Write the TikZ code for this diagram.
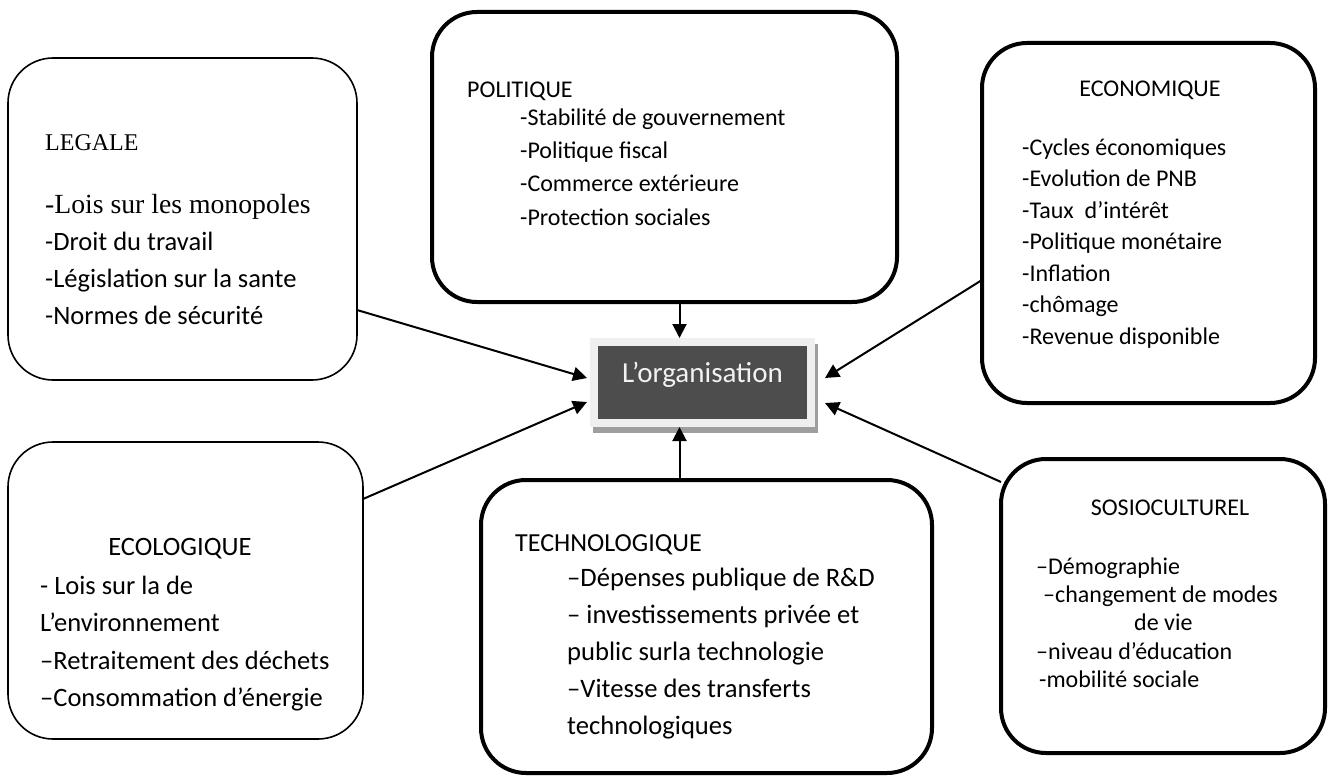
\documentclass[tikz,border=0pt]{standalone}
\usepackage{fontspec}
\setmainfont{Carlito}
\newfontfamily\serifface{Liberation Serif}
\usetikzlibrary{arrows.meta,backgrounds}
\definecolor{orgdark}{HTML}{4D4D4D}
\definecolor{orglight}{HTML}{EFEFEF}
\definecolor{orgshadow}{HTML}{9E9E9E}

\begin{document}
\begin{tikzpicture}
[
x=1pt,y=-1pt,
factor/.style 2 args={draw,rounded corners=45pt,outer sep=0pt,inner sep=0pt,minimum width=#1,minimum height=#2},
heavy/.style={line width=4pt},
light/.style={line width=1.6pt},
title/.style={anchor=base,inner sep=0pt},
titleL/.style={anchor=base west,inner sep=0pt},
items/.style={anchor=base west,align=left,inner sep=0pt},
link/.style={-{Triangle[length=14pt,width=14pt]},line width=2pt},
org/.style={fill=orgdark,draw=orglight,line width=8pt,minimum width=217pt,minimum height=81pt,
            text=white!95!black,font=\fontsize{29}{35}\selectfont,text height=21pt,text depth=21pt},
]
\useasboundingbox (0,0) rectangle (1328,776);

%Place the nodes (lists are placed by the baseline of their last line)
\node[org] (org) at (702.5,382.5) {L’organisation};

\node[factor={349pt}{322pt},light] (legale) at (182.5,219) {};
\node[titleL,font=\serifface\fontsize{24}{30}\selectfont] (legaleT) at (45,150) {LEGALE};
\node[items,font=\fontsize{26.5}{36.7}\selectfont] (legaleL) at (45,324)
  {{\serifface\fontsize{27.7}{36.7}\selectfont -Lois sur les monopoles}\\-Droit du travail\\
   -Législation sur la sante\\-Normes de sécurité};

\node[factor={465pt}{290pt},heavy] (polit) at (664.5,157) {};
\node[titleL,font=\fontsize{24}{30}\selectfont] (politT) at (467,97) {POLITIQUE};
\node[items,font=\fontsize{24}{33.3}\selectfont] (politL) at (520,225)
  {-Stabilité de gouvernement\\-Politique fiscal\\-Commerce extérieure\\-Protection sociales};

\node[factor={333pt}{360pt},heavy] (eco) at (1148.5,223) {};
\node[title,font=\fontsize{24}{30}\selectfont] (ecoT) at (1150,96) {ECONOMIQUE};
\node[items,font=\fontsize{24}{31.5}\selectfont] (ecoL) at (1022,344)
  {-Cycles économiques\\-Evolution de PNB\\-Taux \ d’intérêt\\-Politique monétaire\\
   -Inflation\\-chômage\\-Revenue disponible};

\node[factor={355pt}{297pt},light] (ecolo) at (185.5,590.5) {};
\node[title,font=\fontsize{26.5}{32}\selectfont] (ecoloT) at (180,555) {ECOLOGIQUE};
\node[items,font=\fontsize{26.5}{37.5}\selectfont] (ecoloL) at (40,706.5)
  {- Lois sur la de\\L’environnement\\–Retraitement des déchets\\–Consommation d’énergie};

\node[factor={451pt}{293pt},heavy] (techno) at (706.5,626.5) {};
\node[titleL,font=\fontsize{26}{32}\selectfont] (technoT) at (515,551) {TECHNOLOGIQUE};
\node[items,font=\fontsize{26.6}{37}\selectfont] (technoL) at (567,734)
  {–Dépenses publique de R\&D\\– investissements privée et\\public surla technologie\\
   –Vitesse des transferts\\technologiques};

\node[factor={324pt}{294pt},heavy] (socio) at (1163,606) {};
\node[title,font=\fontsize{24}{30}\selectfont] (socioT) at (1170,515) {SOSIOCULTUREL};
\node[items,font=\fontsize{24}{28.4}\selectfont] (socioL) at (1036,687.6)
  {–Démographie\\\hspace*{7pt}–changement de modes\\\hspace*{98pt}de vie\\
   –niveau d’éducation\\\hspace*{3pt}-mobilité sociale};

%Shadow of the centre box
\begin{scope}[on background layer]
\fill[white] (0,0) rectangle (1328,776);
\fill[orgshadow] ([xshift=3pt,yshift=-6pt]org.south west) rectangle ([xshift=3pt,yshift=-6pt]org.north east);
\end{scope}

%Draw the connections
\draw[link] ([yshift=-91pt]legale.east) to ([xshift=-3pt,yshift=4.5pt]org.west);
\draw[link] ([yshift=91.5pt]ecolo.east) to ([xshift=-3pt,yshift=-19.5pt]org.west);
\draw[link] ([yshift=-57pt]eco.west) to ([xshift=10pt,yshift=4.5pt]org.east);
\draw[link] ([yshift=124pt]socio.west) to ([xshift=10pt,yshift=-20.5pt]org.east);
\draw[link] ([xshift=15pt]polit.south) to ([xshift=-23pt]org.north);
\draw[link] ([xshift=-27pt]techno.north) to ([xshift=-23pt]org.south);
\end{tikzpicture}
\end{document}
